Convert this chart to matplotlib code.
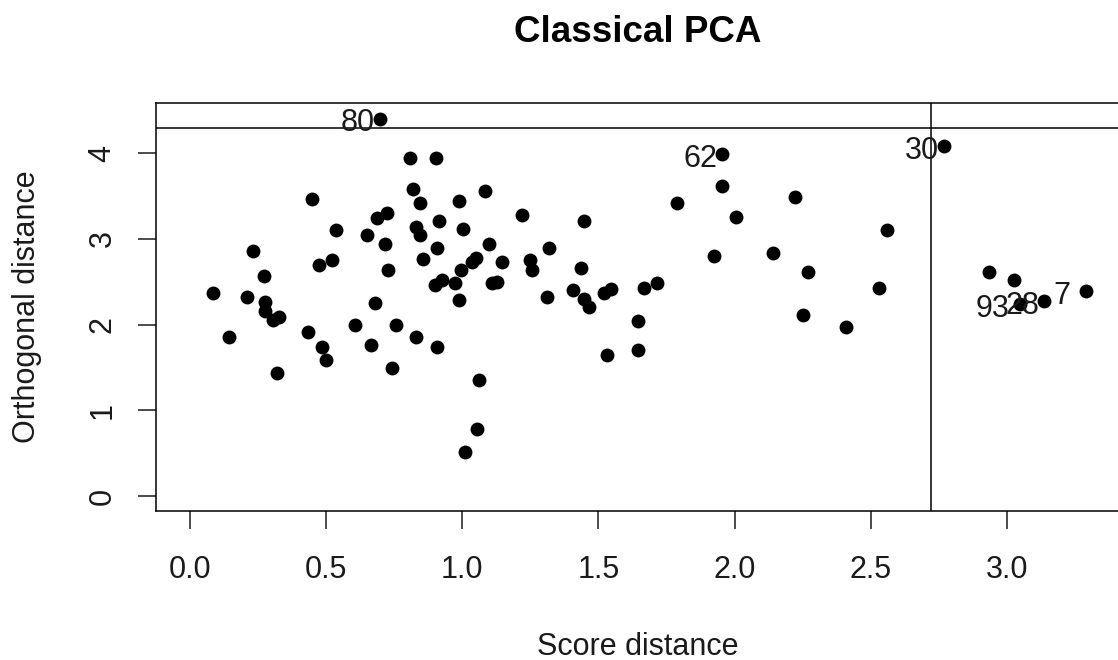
import matplotlib
matplotlib.use("Agg")
import matplotlib.pyplot as plt

plt.rcParams['font.family'] = ['Liberation Sans', 'DejaVu Sans']

# score distance / orthogonal distance of the regular points
score_dist = [0.808, 0.902, 0.447, 0.820, 0.845, 0.988, 0.686, 0.722, 0.535, 0.649,
              0.916, 1.001, 0.829, 0.845, 0.716, 0.908, 0.233, 0.857, 0.475, 0.520,
              0.728, 0.994, 0.273, 0.900, 0.924, 0.973, 0.086, 0.208, 0.275, 0.679,
              0.988, 0.275, 0.304, 0.328, 0.606, 0.757, 0.144, 0.435, 0.829, 0.484,
              0.665, 0.908, 0.498, 0.743, 0.318, 1.061, 1.053, 1.010,
              1.953, 1.787, 2.005, 1.924, 1.083, 1.218, 1.447, 1.098, 1.320, 1.035,
              1.050, 1.145, 1.249, 1.255, 1.108, 1.126, 1.312, 1.436, 1.408, 1.448,
              1.465, 1.520, 1.545, 1.667, 1.716, 1.644, 1.644, 1.530,
              2.222, 2.561, 2.142, 2.271, 2.531, 2.250, 2.409, 2.935, 3.027]
orth_dist = [3.94, 3.94, 3.46, 3.58, 3.42, 3.44, 3.24, 3.30, 3.10, 3.05,
             3.21, 3.12, 3.14, 3.05, 2.94, 2.89, 2.86, 2.77, 2.70, 2.75,
             2.64, 2.64, 2.57, 2.46, 2.52, 2.48, 2.37, 2.32, 2.26, 2.25,
             2.29, 2.16, 2.05, 2.09, 2.00, 2.00, 1.86, 1.91, 1.86, 1.74,
             1.76, 1.74, 1.59, 1.49, 1.44, 1.35, 0.78, 0.51,
             3.62, 3.42, 3.26, 2.80, 3.56, 3.28, 3.21, 2.94, 2.89, 2.73,
             2.78, 2.73, 2.75, 2.64, 2.48, 2.50, 2.32, 2.66, 2.40, 2.30,
             2.20, 2.37, 2.41, 2.43, 2.48, 2.04, 1.70, 1.65,
             3.49, 3.10, 2.84, 2.61, 2.43, 2.11, 1.97, 2.61, 2.52]

# labelled outliers
out_ids = ['80', '62', '30', '93', '28', '7']
out_sd = [0.698, 1.953, 2.769, 3.048, 3.136, 3.289]
out_od = [4.40, 3.99, 4.08, 2.24, 2.27, 2.39]
label_dx = [-5, -4, -5, -10, -5, -15]   # pixels, right edge of label to point

sd_cutoff = 2.72
od_cutoff = 4.29

xticks = [0.0, 0.5, 1.0, 1.5, 2.0, 2.5, 3.0]
yticks = [0, 1, 2, 3, 4]

fig = plt.figure(figsize=(11.18, 6.6), dpi=100)
ax = fig.add_axes([156 / 1118, (660 - 510.7) / 660, (1119.5 - 156) / 1118, 407.4 / 660])

ax.plot(score_dist, orth_dist, 'o', color='black', ms=10, mew=0)
ax.plot(out_sd, out_od, 'o', color='black', ms=10, mew=0)
for name, x, y, dx in zip(out_ids, out_sd, out_od, label_dx):
    ax.annotate(name, (x, y), xytext=(dx, -12.5), textcoords='offset pixels',
                ha='right', va='baseline', fontsize=22, color='#1a1a1a')

ax.axvline(sd_cutoff, color='black', lw=1.1)
ax.axhline(od_cutoff, color='black', lw=1.1)

ax.set_xlim(-0.1249, 3.4135)
ax.set_ylim(-0.1715, 4.582)
ax.set_xticks(xticks)
ax.set_xticklabels(['%.1f' % t for t in xticks])
ax.set_yticks(yticks)
ax.tick_params(axis='both', direction='out', length=13, width=1.1, labelsize=22,
               color='#1a1a1a', labelcolor='#1a1a1a')
ax.tick_params(axis='x', pad=19)
ax.tick_params(axis='y', pad=14.6)
plt.setp(ax.get_yticklabels(), rotation=90, va='center')
for sp in ax.spines.values():
    sp.set_linewidth(1.1)

ax.set_xlabel('Score distance', fontsize=22, color='#1a1a1a')
ax.set_ylabel('Orthogonal distance', fontsize=22, color='#1a1a1a')
ax.xaxis.set_label_coords(0.5, -0.297)
ax.yaxis.set_label_coords(-0.1183, 0.5)
ax.set_title('Classical PCA', fontsize=26.5, fontweight='bold', pad=44.3)

fig.savefig('out.png', dpi=100)
